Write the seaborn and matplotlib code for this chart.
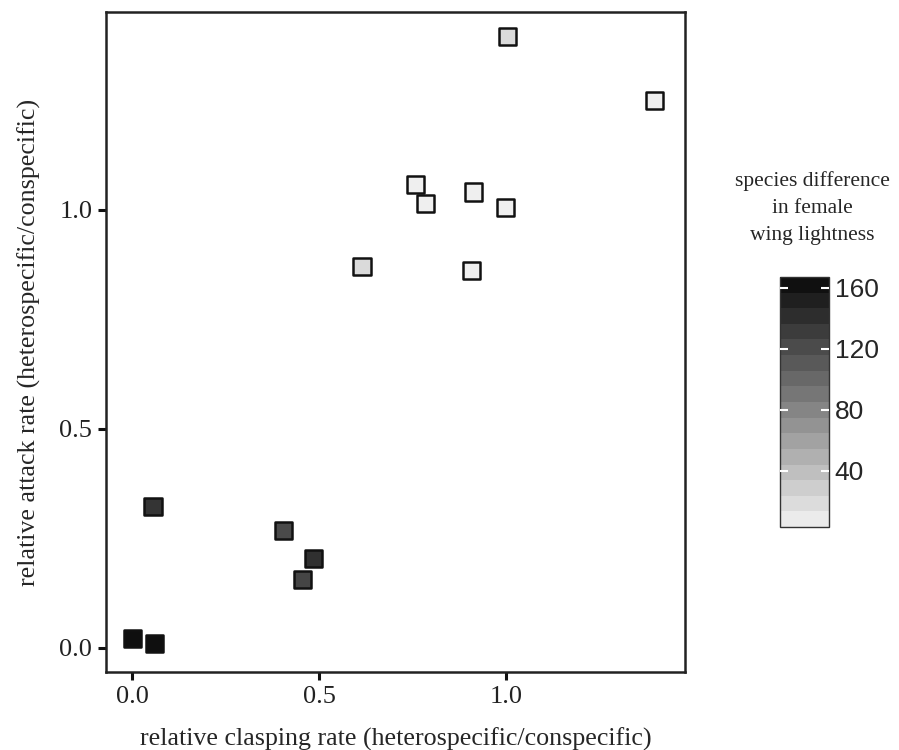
import numpy as np
import pandas as pd
import matplotlib
matplotlib.use("Agg")
import matplotlib.pyplot as plt
import matplotlib.colors as mcolors
import seaborn as sns

# Data
clasping_rate = [1.003, 1.398, 0.757, 0.786, 0.914, 1.000, 0.615, 0.909,
                 0.056, 0.404, 0.484, 0.457, 0.000, 0.059]
attack_rate = [1.395, 1.249, 1.059, 1.014, 1.041, 1.005, 0.870, 0.861,
               0.324, 0.269, 0.205, 0.157, 0.022, 0.011]
wing_difference = [20, 5, 5, 5, 5, 5, 20, 5,
                   137, 122, 140, 125, 163, 163]
colorbar_ticks = [40, 80, 120, 160]

sns.set_theme(style="white")
plt.rcParams['font.family'] = ['Liberation Serif', 'DejaVu Serif']

df = pd.DataFrame({'clasp': clasping_rate, 'attack': attack_rate,
                   'wing': wing_difference})

vmin, vmax = 3, 167
cmap = mcolors.LinearSegmentedColormap.from_list('greys', ['#f2f2f2', '#0a0a0a'])
norm = mcolors.Normalize(vmin=vmin, vmax=vmax)

fig = plt.figure(figsize=(8.99, 7.5), dpi=100)
ax = fig.add_axes([0.118, 0.104, 0.644, 0.88])

sns.scatterplot(data=df, x='clasp', y='attack', hue='wing', palette=cmap,
                hue_norm=norm, marker='s', s=150, edgecolor='#111111',
                linewidth=1.8, legend=False, ax=ax, zorder=3)

ax.set_xlim(-0.0695, 1.479)
ax.set_ylim(-0.055, 1.452)
ax.set_xticks([0.0, 0.5, 1.0])
ax.set_yticks([0.0, 0.5, 1.0])
ax.set_xticklabels(['0.0', '0.5', '1.0'])
ax.set_yticklabels(['0.0', '0.5', '1.0'])
ax.tick_params(direction='out', length=6, width=2.2, color='#111111',
               labelsize=19, labelcolor='#222222', pad=4,
               bottom=True, left=True)
for sp in ax.spines.values():
    sp.set_linewidth(1.8)
    sp.set_color('#222222')
ax.set_xlabel('relative clasping rate (heterospecific/conspecific)',
              fontsize=18.7, labelpad=14)
ax.set_ylabel('relative attack rate (heterospecific/conspecific)',
              fontsize=18.7, labelpad=13)

# colour bar with banded steps
cax = fig.add_axes([780 / 899, 1 - 527 / 750, 49 / 899, 250 / 750])
sm = plt.cm.ScalarMappable(norm=norm, cmap=cmap)
cb = fig.colorbar(sm, cax=cax, boundaries=np.linspace(vmin, vmax, 17),
                  ticks=colorbar_ticks)
cax.set_axisbelow(False)
cb.outline.set_edgecolor('#333333')
cb.outline.set_linewidth(1.0)
cax.tick_params(axis='y', direction='in', length=6, width=1.5,
                color='white', left=True, right=True, labelleft=False,
                labelright=True, labelsize=19, pad=4)
for lbl in cax.get_yticklabels():
    lbl.set_family(['Liberation Sans', 'DejaVu Sans'])

fig.text(812 / 899, 1 - 208 / 750,
         'species difference\nin female\nwing lightness',
         ha='center', va='center', fontsize=15.5, linespacing=1.6)

fig.savefig('out.png', dpi=100, facecolor='white')
